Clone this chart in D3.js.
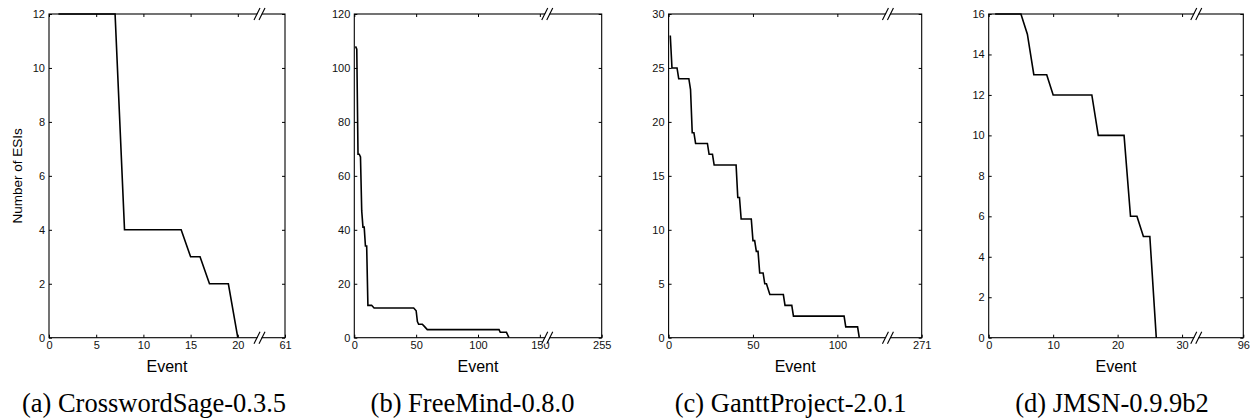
<!DOCTYPE html>
<html>
<head>
<meta charset="utf-8">
<script src="https://cdn.jsdelivr.net/npm/d3@7"></script>
<style>
  body { margin: 0; background: #fff; }
  svg { display: block; }
  .tick text { font-family: "Liberation Sans", Arial, sans-serif; font-size: 11px; fill: #111; }
</style>
</head>
<body>
<svg id="chart" width="1255" height="419"></svg>
<script>
// subfigure captions
const titles = ["(a) CrosswordSage-0.3.5", "(b) FreeMind-0.8.0", "(c) GanttProject-2.0.1", "(d) JMSN-0.9.9b2"];

// step curves, vertices (event, number of ESIs)
const crosswordX = [1, 7, 8, 14, 15, 16, 17, 19, 20];
const crosswordY = [12, 12, 4, 4, 3, 3, 2, 2, 0];

const freemindX = [1, 2, 3, 4, 5, 6, 7, 8, 9, 10, 11, 14, 16, 48, 50, 51, 52, 55, 57, 59, 117, 118, 123, 124, 125];
const freemindY = [108, 107, 68, 68, 67, 47, 41, 41, 34, 34, 12, 12, 11, 11, 10, 6, 5, 5, 4, 3, 3, 2, 2, 1, 0];

const ganttX = [1, 2, 5, 6, 12, 13, 14, 15, 16, 23, 24, 26, 27, 40, 41, 42, 43, 49, 50, 51, 52, 53, 54, 56, 57, 58, 60, 68, 69, 73, 74, 104, 105, 112, 113];
const ganttY = [28, 25, 25, 24, 24, 23, 19, 19, 18, 18, 17, 17, 16, 16, 13, 13, 11, 11, 9, 9, 8, 8, 6, 6, 5, 5, 4, 4, 3, 3, 2, 2, 1, 1, 0];

const jmsnX = [1, 5, 6, 7, 9, 10, 16, 17, 21, 22, 23, 24, 25, 26];
const jmsnY = [16, 16, 15, 13, 13, 12, 12, 10, 10, 6, 6, 5, 5, 0];

// axes
const yMaxes = [12, 120, 30, 16];
const yTickVals = [
  [0, 2, 4, 6, 8, 10, 12],
  [0, 20, 40, 60, 80, 100, 120],
  [0, 5, 10, 15, 20, 25, 30],
  [0, 2, 4, 6, 8, 10, 12, 14, 16]
];
const xTickVals = [[0, 5, 10, 15, 20], [0, 50, 100, 150], [0, 50, 100], [0, 10, 20, 30]];
const xEnds = [25, 200, 150, 39.5];     // where the axis is cut off
const xEndLabels = ["61", "255", "271", "96"];
const xBreaks = [22.3, 156, 130, 32.2];  // position of the // marks

const xsAll = [crosswordX, freemindX, ganttX, jmsnX];
const ysAll = [crosswordY, freemindY, ganttY, jmsnY];

// layout (pixels)
const lefts = [49, 354.3, 668.6, 988.7];
const rights = [285, 601.7, 921.7, 1243.3];
const captionShift = [-13, -5.5, -4.5, -4];
const plotTop = 14, plotBottom = 337.7;

const svg = d3.select("#chart");

for (let i = 0; i < 4; i++) {

  let x = d3.scaleLinear().domain([0, xEnds[i]]).range([lefts[i], rights[i]]);
  let y = d3.scaleLinear().domain([0, yMaxes[i]]).range([plotBottom, plotTop]);
  let g = svg.append("g");

  let endVal = xEnds[i];
  let endLab = xEndLabels[i];

  // left axis with labels, ticks pointing inward
  g.append("g")
    .attr("transform", "translate(" + lefts[i] + ",0)")
    .call(d3.axisLeft(y).tickValues(yTickVals[i]).tickSizeInner(-3).tickSizeOuter(0).tickPadding(4));

  g.append("g")
    .attr("transform", "translate(" + rights[i] + ",0)")
    .call(d3.axisRight(y).tickValues(yTickVals[i]).tickSizeInner(-3).tickSizeOuter(0).tickFormat(""));

  g.append("g")
    .attr("transform", "translate(0," + plotBottom + ")")
    .call(d3.axisBottom(x).tickValues(xTickVals[i].concat([endVal])).tickSizeInner(-3).tickSizeOuter(0).tickPadding(4)
      .tickFormat(d => d === endVal ? endLab : d));

  g.append("g")
    .attr("transform", "translate(0," + plotTop + ")")
    .call(d3.axisTop(x).tickValues(xTickVals[i]).tickSizeInner(-3).tickSizeOuter(0).tickFormat(""));

  g.selectAll(".domain").remove();
  g.selectAll(".tick line").attr("stroke", "#000");

  // box
  g.append("rect")
    .attr("x", lefts[i])
    .attr("y", plotTop)
    .attr("width", rights[i] - lefts[i])
    .attr("height", plotBottom - plotTop)
    .attr("fill", "none")
    .attr("stroke", "#000")
    .attr("stroke-width", 1.1);

  // the curve
  let pts = xsAll[i].map((v, j) => [v, ysAll[i][j]]);
  g.append("path")
    .datum(pts)
    .attr("fill", "none")
    .attr("stroke", "#000")
    .attr("stroke-width", 1.6)
    .attr("d", d3.line().x(d => x(d[0])).y(d => y(d[1])));

  // axis break marks, top and bottom
  let bx = x(xBreaks[i]);
  for (let yy of [plotTop, plotBottom]) {
    g.append("polygon")
      .attr("points", [[bx - 5, yy + 6], [bx + 1, yy - 6], [bx + 5, yy - 6], [bx - 1, yy + 6]].join(" "))
      .attr("fill", "#fff");
    for (let s of [-2.5, 2.5]) {
      g.append("line")
        .attr("x1", bx + s - 3).attr("y1", yy + 6)
        .attr("x2", bx + s + 3).attr("y2", yy - 6)
        .attr("stroke", "#000")
        .attr("stroke-width", 1.1);
    }
  }

  // x label
  g.append("text")
    .attr("x", (lefts[i] + rights[i]) / 2)
    .attr("y", 371.5)
    .attr("text-anchor", "middle")
    .style("font-family", "'Liberation Sans', Arial, sans-serif")
    .style("font-size", "16px")
    .text("Event");

  // caption
  g.append("text")
    .attr("x", (lefts[i] + rights[i]) / 2 + captionShift[i])
    .attr("y", 412)
    .attr("text-anchor", "middle")
    .style("font-family", "'Liberation Serif', 'Times New Roman', serif")
    .style("font-size", "26.5px")
    .text(titles[i]);
}

// y label only on the first panel
svg.append("text")
  .attr("transform", "translate(21.5," + (plotTop + plotBottom) / 2 + ") rotate(-90)")
  .attr("text-anchor", "middle")
  .style("font-family", "'Liberation Sans', Arial, sans-serif")
  .style("font-size", "13.5px")
  .text("Number of ESIs");
</script>
</body>
</html>
